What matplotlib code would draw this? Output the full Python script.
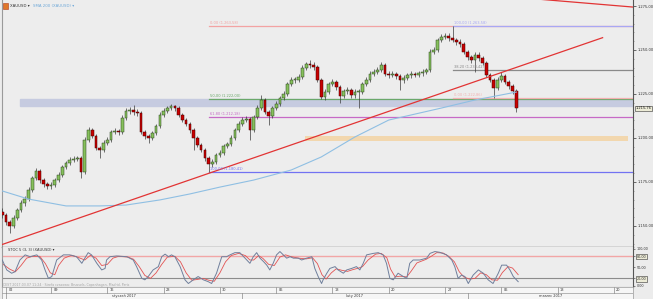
import matplotlib
matplotlib.use('Agg')
import matplotlib.pyplot as plt
import matplotlib.transforms as mtransforms
import numpy as np

# XAUUSD, 8h bars (open = previous close)
first_open = 1158.0
closes = [1156.2, 1152.3, 1150.0, 1154.5, 1159.1, 1163.1, 1165.3, 1170.4, 1177.3, 1181.2,
          1176.1, 1173.9, 1172.7, 1173.3, 1176.1, 1179.0, 1183.5, 1185.8, 1187.5, 1188.1,
          1188.6, 1180.7, 1198.9, 1204.5, 1201.1, 1194.3, 1193.2, 1197.2, 1198.9, 1203.4,
          1204.0, 1203.4, 1211.4, 1215.3, 1215.9, 1214.8, 1214.2, 1203.4, 1201.1, 1200.0,
          1202.8, 1206.8, 1213.1, 1215.3, 1217.0, 1218.2, 1217.0, 1213.1, 1210.2, 1208.0,
          1204.5, 1200.0, 1196.0, 1193.2, 1188.6, 1185.2, 1186.4, 1190.3, 1191.5, 1195.4,
          1196.6, 1200.0, 1204.5, 1208.0, 1210.2, 1210.8, 1204.5, 1211.9, 1217.0, 1221.6,
          1214.8, 1212.5, 1217.0, 1219.3, 1222.7, 1225.0, 1230.7, 1233.0, 1233.0, 1234.7,
          1239.8, 1242.0, 1241.5, 1240.3, 1233.0, 1223.3, 1226.1, 1230.7, 1231.8, 1229.0,
          1223.9, 1226.7, 1227.3, 1224.4, 1226.1, 1226.1, 1230.7, 1233.0, 1236.4, 1237.5,
          1238.6, 1241.5, 1236.4, 1235.8, 1236.4, 1235.2, 1233.0, 1234.1, 1235.8, 1236.4,
          1235.8, 1236.9, 1237.5, 1238.6, 1248.9, 1250.0, 1255.7, 1257.4, 1258.0, 1256.8,
          1255.7, 1254.5, 1253.4, 1248.9, 1246.0, 1244.3, 1247.2, 1245.4, 1242.6, 1235.8,
          1233.0, 1228.4, 1233.0, 1235.2, 1231.8, 1229.5, 1226.5, 1216.8]
highs = [1160.0, 1157.5, 1153.6, 1156.0, 1160.4, 1164.6, 1166.8, 1171.9, 1178.6, 1183.0,
         1182.4, 1177.5, 1175.2, 1174.8, 1177.5, 1180.4, 1184.9, 1187.1, 1189.0, 1189.6,
         1190.0, 1189.8, 1200.3, 1206.2, 1205.8, 1202.3, 1195.6, 1198.6, 1200.3, 1204.8,
         1205.5, 1205.3, 1212.8, 1216.8, 1217.4, 1218.8, 1216.2, 1215.3, 1204.6, 1202.5,
         1204.2, 1208.2, 1214.5, 1216.8, 1218.4, 1219.3, 1219.0, 1218.1, 1214.4, 1211.5,
         1209.2, 1205.8, 1201.3, 1197.3, 1194.4, 1189.8, 1187.9, 1191.7, 1193.0, 1196.8,
         1198.0, 1201.5, 1205.9, 1209.4, 1211.7, 1212.3, 1212.0, 1213.3, 1218.5, 1224.4,
         1222.8, 1216.0, 1218.4, 1220.8, 1224.1, 1226.5, 1232.1, 1234.4, 1234.6, 1236.1,
         1241.2, 1243.4, 1244.3, 1242.9, 1241.5, 1234.2, 1227.6, 1232.1, 1233.3, 1233.1,
         1230.2, 1228.1, 1228.8, 1228.6, 1227.6, 1227.7, 1232.1, 1234.4, 1237.8, 1239.0,
         1240.1, 1243.2, 1242.7, 1237.8, 1237.9, 1237.7, 1236.5, 1235.6, 1237.2, 1237.9,
         1237.7, 1238.3, 1239.0, 1240.0, 1250.3, 1251.5, 1257.1, 1258.9, 1259.6, 1259.4,
         1263.58, 1257.1, 1256.0, 1254.7, 1250.2, 1247.4, 1248.7, 1248.6, 1246.8, 1243.9,
         1237.1, 1234.3, 1234.4, 1237.5, 1236.5, 1233.1, 1230.8, 1227.6]
lows = [1154.5, 1150.8, 1146.0, 1148.6, 1153.2, 1157.8, 1161.5, 1164.0, 1169.1, 1176.0,
        1174.6, 1172.4, 1170.9, 1171.2, 1172.0, 1174.8, 1177.7, 1182.3, 1184.4, 1186.1,
        1186.8, 1177.3, 1179.8, 1197.6, 1199.8, 1193.0, 1188.6, 1192.0, 1195.9, 1197.7,
        1202.0, 1201.9, 1202.2, 1210.2, 1213.9, 1213.2, 1212.6, 1202.0, 1199.6, 1197.2,
        1198.7, 1201.6, 1205.6, 1211.9, 1214.0, 1215.8, 1215.6, 1211.8, 1208.9, 1206.6,
        1203.0, 1193.2, 1194.6, 1191.8, 1187.2, 1180.5, 1183.8, 1185.1, 1189.0, 1190.2,
        1194.1, 1195.3, 1198.8, 1203.2, 1206.8, 1208.9, 1198.9, 1203.2, 1210.6, 1215.8,
        1213.4, 1207.4, 1211.2, 1215.8, 1218.0, 1221.4, 1223.8, 1229.4, 1231.5, 1231.7,
        1233.4, 1238.6, 1240.0, 1238.8, 1231.6, 1221.9, 1221.8, 1224.9, 1229.3, 1227.5,
        1219.9, 1222.6, 1225.2, 1222.9, 1223.0, 1217.0, 1224.8, 1229.4, 1231.7, 1235.0,
        1236.1, 1237.3, 1235.0, 1234.3, 1234.4, 1233.8, 1227.3, 1231.5, 1232.8, 1234.3,
        1234.4, 1234.5, 1235.5, 1236.2, 1237.4, 1247.6, 1248.8, 1254.4, 1256.0, 1255.3,
        1254.3, 1253.0, 1251.9, 1247.5, 1244.6, 1242.8, 1237.5, 1244.0, 1241.2, 1234.4,
        1231.6, 1222.86, 1227.1, 1231.7, 1230.4, 1228.1, 1225.1, 1215.0]
last_price_label = '1.215,76'

# SMA 200 (sampled along the curve)
sma_bar = [0, 7, 17, 26, 33, 42, 50, 58, 67, 77, 85, 94, 103, 109, 117, 126, 137]
sma_val = [1169.9, 1165.3, 1161.4, 1161.4, 1161.9, 1164.8, 1168.2, 1172.1, 1176.1,
           1181.8, 1189.2, 1200.6, 1210.2, 1213.1, 1217.0, 1221.6, 1226.1]

# Stochastic %K and signal
stoch_bar = [0, 1.2, 2.5, 3.4, 4.7, 6.1, 7.4, 9.2, 10.5, 11.4, 12.3, 13.2, 14.5, 16.3, 18,
             19.8, 21.2, 22, 22.9, 23.8, 25.2, 26.5, 27.4, 27.8, 28.7, 30.5, 33.2, 34.9,
             35.8, 37.2, 38, 38.9, 40.2, 41.6, 42.5, 43.4, 44.3, 45.1, 46, 47.4, 48.7, 49.6,
             50.9, 52.2, 53.6, 54.9, 55.8, 57.1, 58.5, 59.8, 60.7, 62, 63.3, 64.7, 66, 66.9,
             67.8, 68.7, 69.6, 70.5, 71.3, 72.2, 73.1, 74, 74.9, 75.8, 76.7, 77.6, 78.9,
             79.8, 81.1, 82.5, 83.3, 84.2, 85.1, 85.5, 86.5, 87.3, 88.7, 89.5, 90.9, 91.8,
             93.1, 94.4, 95.3, 96.2, 97.1, 98.9, 100.2, 101.5, 102.4, 103.3, 104.2, 105.5,
             106.9, 107.8, 108.6, 109.5, 111.3, 113.1, 114, 115.3, 116.6, 118.4, 119.8,
             120.6, 121.5, 122.4, 123.3, 124.2, 125.5, 126.9, 128.2, 129.5, 130.8, 132.2,
             133.1, 134.4, 135.3, 136.2, 137.5]
stoch_main = [70, 43, 34, 38, 70, 84, 79, 84, 70, 43, 20, 25, 70, 84, 84,
              79, 61, 75, 90, 84, 61, 43, 47, 70, 79, 81, 79, 70,
              52, 20, 16, 25, 43, 52, 79, 86, 79, 84, 79, 52, 16, 6,
              16, 25, 16, 11, 6, 34, 79, 79, 84, 90, 90, 75, 61, 79,
              90, 75, 66, 56, 43, 61, 84, 93, 84, 75, 79, 75, 75,
              70, 75, 79, 47, 25, 6, 16, 34, 47, 52, 43, 34, 43,
              47, 52, 43, 61, 84, 88, 90, 84, 61, 20, 16, 34,
              25, 20, 61, 70, 70, 75, 88, 93, 91, 84, 70,
              52, 20, 29, 25, 6, 29, 43, 34, 16, 6, 34,
              56, 56, 43, 25, 11]
signal_bar = [0, 2, 3.5, 5, 6.5, 8, 10, 11.5, 12.8, 14, 15, 16.5, 18.5, 20.5, 22, 23.5, 25,
              26.5, 28, 29.5, 31, 33.5, 35, 36.5, 38, 39.5, 41, 42.5, 44, 46, 47.5, 49,
              50.5, 52, 53.5, 55, 56.5, 58, 59.5, 61, 63, 64.8, 66, 67, 68.3, 69.5, 71,
              72.5, 74, 75.5, 77, 79, 81, 82.7, 84, 85.2, 86.3, 87.7, 89, 90.5, 92, 93.5,
              95, 96, 97.5, 99.5, 101, 102.5, 103.5, 104.7, 106, 107.8, 109, 110.5, 113,
              114.3, 115.8, 117.5, 119, 120.5, 121.8, 123, 124.5, 126, 127.5, 129, 130.5,
              132, 133.3, 134.8, 136, 137.5]
stoch_signal = [60, 45, 38, 55, 75, 80, 80, 60, 35, 30, 55, 75, 83, 76, 70, 83, 75,
                55, 58, 75, 80, 78, 72, 52, 28, 20, 35, 58, 78, 80, 65, 35,
                15, 17, 20, 15, 12, 35, 65, 82, 88, 82, 70, 70, 82, 74, 58,
                55, 78, 84, 79, 75, 73, 76, 60, 30, 18, 35, 46, 42, 39, 44,
                48, 52, 70, 86, 88, 76, 45, 24, 26, 24, 40, 62, 72,
                80, 90, 89, 80, 65, 38, 24, 18, 20, 35, 30, 16,
                15, 36, 52, 48, 30]

# Fibonacci retracements
fib1_start = 55
fib1_pct = [0, 50, 61.8, 100]
fib1_price = [1263.58, 1222.00, 1212.18, 1180.41]
fib1_colors = ['#f3a3a3', '#6aa86a', '#c66ac6', '#7272f2']
fib2_start = 120
fib2_pct = [100, 38.2, 0]
fib2_price = [1263.58, 1238.42, 1222.86]
fib2_colors = ['#a8a8f4', '#8a8a8a', '#f3b0b0']

# drawn objects: zones and trend lines
zone_blue = (4.7, 1218.3, 1222.2)
zone_orange = (80.7, 166.7, 1198.5, 1201.1)
trend_bars = [0, 160]
trend_prices = [1139.5, 1257.0]
trend2_bars = [140, 168.1]
trend2_prices = [1279.4, 1274.4]

week_bars = [1, 13, 28, 43, 58, 73, 88, 103, 118, 133, 148, 163]
week_labels = ['02', '09', '16', '23', '30', '06', '13', '20', '27', '06', '13', '20']
month_edges = [1, 64, 124, 168.1]
month_labels = ['styczeń 2017', 'luty 2017', 'marzec 2017']


def pl(v):
    s = '{:,.2f}'.format(v)
    return s.replace(',', ' ').replace('.', ',').replace(' ', '.')


W, H = 653, 299
fig = plt.figure(figsize=(W / 100, H / 100), dpi=100, facecolor='#ececec')
xl, xr = 2, 633
ax = fig.add_axes([xl / W, 1 - 247 / H, (xr - xl) / W, 247 / H])
ax2 = fig.add_axes([xl / W, 1 - 287 / H, (xr - xl) / W, 40 / H])
ax3 = fig.add_axes([xl / W, 0, (xr - xl) / W, 12 / H])
xlim = (-0.07, 168.1)
for a in (ax, ax2, ax3):
    a.set_xlim(*xlim)
    a.set_facecolor('#ededed')
    a.set_xticks([])
ax3.set_facecolor('#f6f6f6')

closes = np.array(closes)
opens = np.r_[first_open, closes[:-1]]
highs = np.array(highs)
lows = np.array(lows)
x = np.arange(len(closes))

# main chart
ax.set_ylim(1138.06, 1278.41)
ax.axhspan(zone_blue[1], zone_blue[2], xmin=(zone_blue[0] - xlim[0]) / (xlim[1] - xlim[0]),
           color='#c6cbe0', zorder=1)
ax.fill_between([zone_orange[0], zone_orange[1]], zone_orange[2], zone_orange[3],
                color='#f2d7ae', zorder=1, lw=0)
for pct, pr, col in zip(fib1_pct, fib1_price, fib1_colors):
    ax.plot([fib1_start, xlim[1]], [pr, pr], color=col, lw=0.9, zorder=2)
    ax.text(fib1_start + 0.3, pr + 0.6, '{} ({})'.format(pl(pct), pl(pr)),
            color=col, fontsize=2.6, va='bottom', ha='left', zorder=6)
for pct, pr, col in zip(fib2_pct, fib2_price, fib2_colors):
    ax.plot([fib2_start, xlim[1]], [pr, pr], color=col, lw=0.9, zorder=2.5)
    ax.text(fib2_start + 0.3, pr + 0.6, '{} ({})'.format(pl(pct), pl(pr)),
            color=col, fontsize=2.6, va='bottom', ha='left', zorder=6)

ax.vlines(x, lows, highs, color='#3c3c3c', lw=0.5, zorder=3)
body = closes - opens
body = np.where(np.abs(body) < 0.4, 0.4, body)
up = closes >= opens
ax.bar(x[up], body[up], bottom=opens[up], width=0.72, color='#86c05c',
       edgecolor='#2a431c', lw=0.35, zorder=4)
ax.bar(x[~up], body[~up], bottom=opens[~up], width=0.72, color='#c80000',
       edgecolor='#420000', lw=0.35, zorder=4)

ax.plot(sma_bar, sma_val, color='#8fbfe3', lw=0.8, zorder=5)
ax.plot(trend_bars, trend_prices, color='#e23434', lw=0.9, zorder=5)
ax.plot(trend2_bars, trend2_prices, color='#e23434', lw=0.9, zorder=5, clip_on=True)

ax.yaxis.tick_right()
ax.set_yticks([1150, 1175, 1200, 1225, 1250, 1275])
ax.set_yticklabels([pl(v) for v in [1150, 1175, 1200, 1225, 1250, 1275]])
ax.set_yticks(np.arange(1140, 1280, 5), minor=True)
ax.tick_params(axis='y', which='major', labelsize=2.6, length=2, width=0.5, pad=1,
               colors='#333333')
ax.tick_params(axis='y', which='minor', length=1, width=0.4, colors='#666666')
trans = mtransforms.blended_transform_factory(ax.transAxes, ax.transData)
ax.text(1.004, closes[-1], last_price_label, transform=trans, fontsize=2.6, va='center',
        ha='left', clip_on=False, color='#222222',
        bbox=dict(boxstyle='square,pad=0.25', fc='#ecebd6', ec='#333333', lw=0.4))
ax.spines['top'].set_visible(False)
ax.spines['left'].set_color('#9a9a9a')
ax.spines['right'].set_color('#555555')
ax.spines['bottom'].set_color('#333333')
ax.spines['bottom'].set_linewidth(0.9)

# stochastic panel
ax2.set_ylim(-3.5, 105.4)
ax2.axhline(80, color='#f2a6a6', lw=1.0, zorder=1)
ax2.axhline(20, color='#8c8c8c', lw=0.8, zorder=1)
ax2.plot(stoch_bar, stoch_main, color='#6f7f9c', lw=0.7, zorder=3)
ax2.plot(signal_bar, stoch_signal, color='#e35252', lw=0.6, zorder=2)
ax2.yaxis.tick_right()
ax2.set_yticks([0, 20, 50, 80, 100])
ax2.set_yticklabels([pl(v) for v in [0, 20, 50, 80, 100]])
ax2.tick_params(axis='y', labelsize=2.4, length=1.5, width=0.4, pad=1, colors='#333333')
for lbl in ax2.get_yticklabels():
    if lbl.get_text() in ('80,00', '20,00'):
        lbl.set_bbox(dict(boxstyle='square,pad=0.2', fc='#ecebd6', ec='#333333', lw=0.4))
ax2.text(1.5, 96, 'STOC 5 (3, 3) (XAUUSD) ▾', fontsize=2.6, color='#333333',
         va='center', ha='left')
ax2.text(0.3, 1.5, 'CEST 2017.03.07 11:24 · Strefa czasowa: Brussels, Copenhagen, Madrid, Paris',
         fontsize=2.3, color='#a4a4a4', va='center', ha='left')
ax2.spines['top'].set_visible(False)
ax2.spines['left'].set_color('#9a9a9a')
ax2.spines['right'].set_color('#555555')
ax2.spines['bottom'].set_color('#8a8a8a')

# date axis
ax3.set_ylim(0, 2)
ax3.set_yticks([])
ax3.axhline(1, color='#9a9a9a', lw=0.5)
for b, lab in zip(week_bars, week_labels):
    ax3.plot([b, b], [1, 2], color='#8a8a8a', lw=0.5)
    ax3.text(b + 0.6, 1.5, lab, fontsize=2.5, color='#333333', va='center', ha='left')
for i, lab in enumerate(month_labels):
    ax3.plot([month_edges[i], month_edges[i]], [0, 1], color='#8a8a8a', lw=0.5)
    ax3.text((month_edges[i] + month_edges[i + 1]) / 2, 0.5, lab, fontsize=2.5,
             color='#333333', va='center', ha='center')
for s in ax3.spines.values():
    s.set_color('#9a9a9a')
    s.set_linewidth(0.5)

# header
fig.patches.append(plt.Rectangle((3 / W, 1 - 9 / H), 5 / W, 6 / H, transform=fig.transFigure,
                                 fc='#e0782a', ec='#b33a1a', lw=0.4))
fig.text(10 / W, 1 - 6 / H, 'XAUUSD ▾', fontsize=2.8, color='#333333', va='center')
fig.text(33 / W, 1 - 6 / H, 'SMA 200 (XAUUSD) ▾', fontsize=2.8, color='#6ea8d8', va='center')

fig.savefig('out.png', dpi=100, facecolor=fig.get_facecolor())
